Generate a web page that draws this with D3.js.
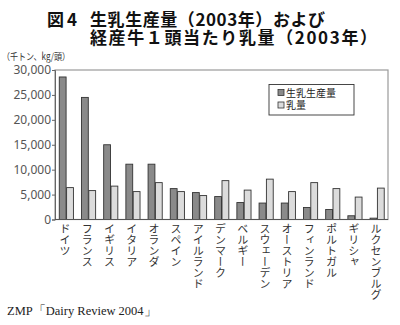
<!DOCTYPE html>
<html><head><meta charset="utf-8">
<script src="https://cdn.jsdelivr.net/npm/d3@7"></script>
<style>
html,body{margin:0;padding:0;background:#fff;}
svg{display:block;}
</style></head>
<body>
<script>
const categories = ["ドイツ","フランス","イギリス","イタリア","オランダ","スペイン","アイルランド","デンマーク","ベルギー","スウェーデン","オーストリア","フィンランド","ポルトガル","ギリシャ","ルクセンブルグ"];
const production = [28600,24500,15000,11100,11100,6200,5400,4600,3400,3300,3300,2400,2000,750,270];
const yieldPerCow = [6400,5800,6700,5600,7400,5600,4800,7800,5900,8100,5600,7400,6200,4500,6300];
const seriesNames = ["生乳生産量","乳量"];
const yTicks = [0,5000,10000,15000,20000,25000,30000];
const titleLines = ["生乳生産量（2003年）および","経産牛１頭当たり乳量（2003年）"];
const figLabel = "図4";
const unitLabel = "（千トン、kg/頭）";
const sourceText = "ZMP「Dairy Review 2004」";

const W = 400, H = 325;
const L = 55, R = 388, T = 70, B = 219.5;
const colors = ["#8a8a8a","#dcdcdc"];
const jp = "'Noto Sans CJK JP','Noto Sans',sans-serif";

const svg = d3.select("body").append("svg").attr("width",W).attr("height",H);

// Title
svg.append("text").attr("x",47).attr("y",26).attr("font-family",jp).attr("font-weight","bold")
  .attr("font-size",17).attr("fill","#111").attr("textLength",30).text(figLabel);
const titleWidths = [235, 287];
titleLines.forEach((t,i)=>{
  svg.append("text").attr("x",90).attr("y",26+18*i).attr("font-family",jp).attr("font-weight","bold")
    .attr("font-size",17).attr("fill","#111").attr("textLength",titleWidths[i])
    .attr("lengthAdjust","spacing").text(t);
});

// unit
svg.append("text").attr("x",2).attr("y",60).attr("font-family",jp).attr("font-size",9.5)
  .attr("fill","#333").attr("textLength",68).attr("lengthAdjust","spacingAndGlyphs").text(unitLabel);

const x = d3.scaleBand().domain(categories).range([L,R]).paddingInner(0.34).paddingOuter(0.17);
const xs = d3.scaleBand().domain([0,1]).range([0,x.bandwidth()]);
const y = d3.scaleLinear().domain([0,30000]).range([B,T]);

// frame
svg.append("rect").attr("x",L).attr("y",T).attr("width",R-L).attr("height",B-T)
  .attr("fill","none").attr("stroke","#9a9a9a").attr("stroke-width",1.2);

// bars
const data = [production, yieldPerCow];
data.forEach((vals,si)=>{
  svg.append("g").selectAll("rect").data(categories).join("rect")
    .attr("x",d=>x(d)+xs(si)+0.5)
    .attr("y",(d,i)=>y(vals[i]))
    .attr("width",xs.bandwidth()-0.5)
    .attr("height",(d,i)=>y(0)-y(vals[i]))
    .attr("fill",colors[si]).attr("stroke","#333").attr("stroke-width",0.9);
});

// y axis
const yAxis = d3.axisLeft(y).tickValues(yTicks).tickFormat(d3.format(",")).tickSize(3).tickPadding(1);
const gy = svg.append("g").attr("transform",`translate(${L},0)`).call(yAxis);
gy.select(".domain").attr("stroke","#666");
gy.selectAll(".tick line").attr("stroke","#666");
gy.selectAll("text").attr("font-family","'Noto Sans',sans-serif").attr("font-size",12).attr("fill","#555");

// x axis line
svg.append("line").attr("x1",L).attr("x2",R).attr("y1",B).attr("y2",B).attr("stroke","#555").attr("stroke-width",1.2);

// category labels (vertical)
svg.append("g").selectAll("text").data(categories).join("text")
  .attr("x",d=>x(d)+x.bandwidth()/2-1)
  .attr("y",223)
  .style("writing-mode","vertical-rl")
  .attr("font-family",jp).attr("font-size",11).attr("fill","#333")
  .text(d=>d);

// legend
const lg = svg.append("g");
lg.append("rect").attr("x",269).attr("y",84.5).attr("width",85).attr("height",30.5)
  .attr("fill","#fff").attr("stroke","#333").attr("stroke-width",0.9);
seriesNames.forEach((n,i)=>{
  lg.append("rect").attr("x",278).attr("y",89.5+i*12.5).attr("width",6).attr("height",6)
    .attr("fill",colors[i]).attr("stroke","#333").attr("stroke-width",0.8);
  lg.append("text").attr("x",286).attr("y",96.5+i*12.5).attr("font-family",jp).attr("font-size",10)
    .attr("fill","#222").text(n);
});

// source
svg.append("text").attr("x",7).attr("y",315).attr("font-family","'Liberation Serif','DejaVu Serif',serif")
  .attr("font-size",12.5).attr("fill","#222").text(sourceText);
</script>
</body></html>
